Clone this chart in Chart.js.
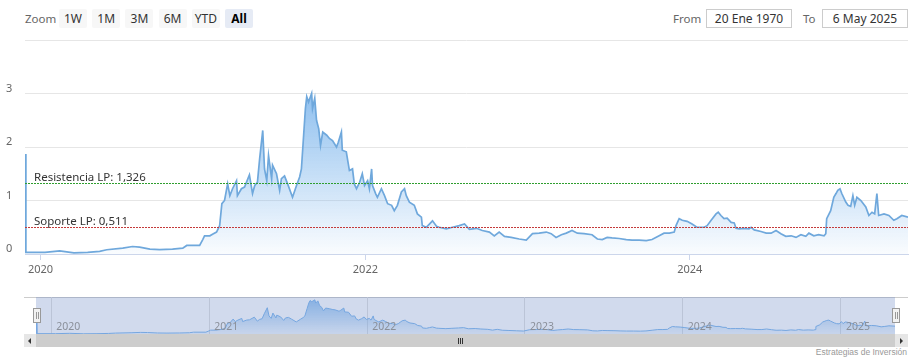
<!DOCTYPE html>
<html>
<head>
<meta charset="utf-8">
<script src="https://cdn.jsdelivr.net/npm/chart.js@4.4.1/dist/chart.umd.min.js"></script>
<style>
body{margin:0;background:#fff;font-family:"Noto Sans",sans-serif;}
#wrap{position:relative;width:921px;height:364px;overflow:hidden;background:#fff;}
.abs{position:absolute;}
.zbtn{position:absolute;top:9px;width:28px;height:19px;line-height:19px;text-align:center;font-size:12px;color:#333;background:#f7f7f7;border-radius:2px;}
.zbtn.sel{background:#e6ebf5;font-weight:bold;color:#000;}
.txt{position:absolute;top:9px;line-height:19px;font-size:11.5px;color:#666;}
.inp{position:absolute;top:9px;width:84px;height:17px;line-height:17px;border:1px solid #ccc;text-align:center;font-size:12px;color:#333;background:#fff;}
.handle{position:absolute;top:308px;width:6px;height:13px;background:#f2f2f2;border:1px solid #999;}
.handle i{position:absolute;top:3px;width:1px;height:7px;background:#999;}
</style>
</head>
<body>
<div id="wrap">
  <div class="txt" style="left:25px">Zoom</div>
  <div id="buttons"></div>
  <div class="txt" style="left:673px">From</div>
  <div class="inp" style="left:706px" id="fromBox"></div>
  <div class="txt" style="left:803px">To</div>
  <div class="inp" style="left:822px" id="toBox"></div>

  <canvas id="mainChart" class="abs" width="921" height="250" style="left:0;top:30px"></canvas>

  <div class="abs" style="left:24px;top:297px;width:884px;height:1px;background:#ccc"></div>
  <canvas id="navChart" class="abs" width="859" height="37" style="left:36px;top:297px"></canvas>
  <div class="handle" style="left:33px"><i style="left:2px"></i><i style="left:4px"></i></div>
  <div class="handle" style="left:892px"><i style="left:2px"></i><i style="left:4px"></i></div>

  <div class="abs" style="left:24px;top:334px;width:884px;height:13px;background:#f2f2f2">
    <div class="abs" style="left:12px;top:0;width:859px;height:13px;background:#cdcdcd"></div>
    <div class="abs" style="left:0;top:0;width:12px;height:13px;background:#e6e6e6">
      <div class="abs" style="left:4px;top:4px;width:0;height:0;border-top:3px solid transparent;border-bottom:3px solid transparent;border-right:3px solid #333"></div>
    </div>
    <div class="abs" style="left:871px;top:0;width:13px;height:13px;background:#e6e6e6">
      <div class="abs" style="left:5px;top:4px;width:0;height:0;border-top:3px solid transparent;border-bottom:3px solid transparent;border-left:3px solid #333"></div>
    </div>
    <div class="abs" style="left:434px;top:4px;width:1px;height:6px;background:#333"></div>
    <div class="abs" style="left:436px;top:4px;width:1px;height:6px;background:#333"></div>
    <div class="abs" style="left:438px;top:4px;width:1px;height:6px;background:#333"></div>
  </div>
  <div class="abs" id="credits" style="right:14px;top:347px;font-size:8.5px;color:#999;font-family:'Liberation Sans',sans-serif"></div>
</div>
<script>
// --- chart data ---
const dates = [
  '2019-11-27','2019-11-29','2020-01-11','2020-02-13','2020-03-16','2020-04-16','2020-05-13','2020-05-29','2020-07-04','2020-07-26',
  '2020-08-11','2020-09-03','2020-09-25','2020-10-24','2020-11-16','2020-11-25','2020-12-24','2020-12-31',
  '2021-01-04','2021-01-16','2021-01-22','2021-01-31','2021-02-07','2021-02-12','2021-02-18','2021-02-25','2021-03-02','2021-03-08',
  '2021-03-17','2021-03-19','2021-03-28','2021-04-04','2021-04-15','2021-04-22','2021-04-27','2021-05-03','2021-05-08','2021-05-15',
  '2021-05-19','2021-05-24','2021-05-28','2021-06-04','2021-06-06','2021-06-15','2021-06-22','2021-06-26','2021-07-03','2021-07-10',
  '2021-07-21','2021-07-30','2021-08-06','2021-08-10','2021-08-15','2021-08-19','2021-08-22','2021-08-26','2021-09-02','2021-09-04',
  '2021-09-09','2021-09-13','2021-09-18','2021-09-22','2021-09-27','2021-10-06','2021-10-12','2021-10-19','2021-10-28','2021-11-01',
  '2021-11-08','2021-11-10','2021-11-19','2021-11-26','2021-12-03','2021-12-07','2021-12-12','2021-12-19','2021-12-25','2021-12-30',
  '2022-01-06','2022-01-10','2022-01-15','2022-01-17','2022-01-24','2022-01-28','2022-02-06','2022-02-13','2022-02-20','2022-03-01',
  '2022-03-07','2022-03-14','2022-03-23','2022-03-30','2022-04-03','2022-04-10','2022-04-21','2022-04-28','2022-05-07','2022-05-09',
  '2022-05-18','2022-05-25','2022-06-01','2022-06-10','2022-06-16','2022-07-02','2022-07-16','2022-07-31','2022-08-12','2022-08-23',
  '2022-09-08','2022-09-21','2022-10-07','2022-10-18','2022-10-29','2022-11-10','2022-11-25','2022-12-13','2022-12-29',
  '2023-01-12','2023-01-27','2023-02-12','2023-02-23','2023-03-06','2023-03-18','2023-03-29','2023-04-11','2023-04-23','2023-05-08',
  '2023-05-26','2023-06-07','2023-06-18','2023-06-29','2023-07-10','2023-07-26','2023-08-11','2023-08-24','2023-09-09','2023-09-25',
  '2023-10-08','2023-10-24','2023-11-04','2023-11-16','2023-11-27','2023-12-01','2023-12-08','2023-12-15','2023-12-26',
  '2024-01-06','2024-01-17','2024-02-02','2024-02-09','2024-02-18','2024-02-29','2024-03-05','2024-03-11','2024-03-18','2024-03-25',
  '2024-04-03','2024-04-10','2024-04-14','2024-04-21','2024-05-02','2024-05-13','2024-05-18','2024-05-25','2024-06-09','2024-06-21',
  '2024-07-02','2024-07-13','2024-07-24','2024-08-04','2024-08-16','2024-08-27','2024-09-07','2024-09-18','2024-09-25','2024-10-06',
  '2024-10-17','2024-10-29','2024-11-02','2024-11-04','2024-11-13','2024-11-20','2024-11-25','2024-11-29','2024-12-04','2024-12-08',
  '2024-12-17','2024-12-22','2024-12-28',
  '2025-01-02','2025-01-06','2025-01-11','2025-01-20','2025-01-31','2025-02-07','2025-02-14','2025-02-20','2025-02-25','2025-03-01',
  '2025-03-13','2025-03-24','2025-04-04','2025-04-11','2025-04-22','2025-05-06'
];
const prices = [
  1.87,0.03,0.03,0.06,0.02,0.03,0.05,0.08,0.11,0.14,
  0.13,0.09,0.08,0.09,0.11,0.16,0.16,0.27,
  0.34,0.34,0.37,0.41,0.53,0.94,1.00,1.31,1.09,1.22,
  1.37,1.09,1.22,1.25,1.48,1.13,1.28,1.34,1.78,2.31,
  1.59,1.37,1.84,1.41,1.66,1.50,1.19,1.41,1.46,1.31,
  1.06,1.28,1.44,1.59,2.22,2.72,2.94,2.84,3.00,2.72,
  2.91,2.50,2.34,2.03,2.28,2.22,2.16,2.12,2.00,2.09,
  2.28,1.94,1.91,1.56,1.59,1.31,1.22,1.34,1.50,1.28,
  1.37,1.22,1.59,1.28,1.13,1.06,1.22,1.09,0.94,0.91,
  0.81,0.91,1.16,1.22,1.09,0.97,0.91,0.75,0.69,0.53,
  0.50,0.56,0.62,0.52,0.50,0.47,0.50,0.53,0.56,0.46,
  0.48,0.44,0.41,0.34,0.41,0.33,0.31,0.28,0.26,
  0.38,0.39,0.41,0.38,0.31,0.36,0.39,0.44,0.39,0.38,
  0.36,0.28,0.27,0.31,0.30,0.29,0.27,0.26,0.26,0.25,
  0.27,0.34,0.39,0.39,0.41,0.53,0.66,0.63,0.61,
  0.56,0.50,0.50,0.53,0.63,0.75,0.78,0.72,0.66,0.67,
  0.59,0.58,0.48,0.47,0.48,0.47,0.50,0.45,0.42,0.39,
  0.39,0.44,0.38,0.33,0.34,0.31,0.36,0.33,0.39,0.34,
  0.36,0.34,0.38,0.66,0.81,1.06,1.13,1.19,1.22,1.13,
  0.97,0.91,0.89,
  1.09,0.91,1.06,1.00,0.88,0.72,0.78,0.75,1.13,0.72,
  0.75,0.72,0.63,0.66,0.72,0.69
];
const levelValues = [1.326, 0.511];
const levelLabels = ['Resistencia LP: 1,326', 'Soporte LP: 0,511'];
const yTicks = [0, 1, 2, 3, 4];
const mainYears = [2020, 2022, 2024];
const navYears = [2020, 2021, 2022, 2023, 2024, 2025];
const zoomButtons = ['1W', '1M', '3M', '6M', 'YTD', 'All'];
const rangeFrom = '20 Ene 1970', rangeTo = '6 May 2025';
const creditText = 'Estrategias de Inversión';

if (dates.length !== prices.length) throw new Error('length mismatch ' + dates.length + ' / ' + prices.length);

// --- header & footer text ---
const btnBox = document.getElementById('buttons');
zoomButtons.forEach((b, i) => {
  const d = document.createElement('div');
  d.className = 'zbtn' + (b === 'All' ? ' sel' : '');
  d.style.left = (59 + i * 33.2) + 'px';
  d.textContent = b;
  btnBox.appendChild(d);
});
document.getElementById('fromBox').textContent = rangeFrom;
document.getElementById('toBox').textContent = rangeTo;
document.getElementById('credits').textContent = creditText;

// --- shared bits ---
const toTs = d => Date.parse(d + 'T00:00:00Z');
const points = dates.map((d, i) => ({ x: toTs(d), y: prices[i] }));
const xMin = points[0].x, xMax = points[points.length - 1].x;
const yearTs = y => Date.UTC(y, 0, 1);
Chart.defaults.font.family = '"Noto Sans", sans-serif';
Chart.defaults.animation = false;

function gradientFill(a0, a1, topVal) {
  return ctx => {
    const chart = ctx.chart, area = chart.chartArea, y = chart.scales.y;
    if (!area || !y) return 'rgba(124,181,236,0.3)';
    const g = chart.ctx.createLinearGradient(0, y.getPixelForValue(topVal), 0, area.bottom);
    g.addColorStop(0, 'rgba(124,181,236,' + a0 + ')');
    g.addColorStop(1, 'rgba(124,181,236,' + a1 + ')');
    return g;
  };
}

// --- level lines (plot lines) ---
const levelStyle = { colors: ['#2f9e2f', '#c43a3a'], dash: [2, 1] };
const levelLines = {
  id: 'levelLines',
  afterDatasetsDraw(chart) {
    const { ctx, chartArea: a, scales: { y } } = chart;
    levelValues.forEach((v, i) => {
      const py = Math.round(y.getPixelForValue(v)) + 0.5;
      ctx.save();
      ctx.strokeStyle = levelStyle.colors[i];
      ctx.lineWidth = 1;
      ctx.setLineDash(levelStyle.dash);
      ctx.beginPath(); ctx.moveTo(a.left, py); ctx.lineTo(a.right, py); ctx.stroke();
      ctx.setLineDash([]);
      ctx.fillStyle = '#333';
      ctx.font = '11.5px "Noto Sans", sans-serif';
      ctx.textBaseline = 'alphabetic';
      ctx.fillText(levelLabels[i], a.left + 9, py - 3);
      ctx.restore();
    });
  }
};

// --- main chart ---
new Chart(document.getElementById('mainChart'), {
  type: 'line',
  data: { datasets: [{
    data: points,
    borderColor: '#6fa8dc',
    borderWidth: 1.7,
    pointRadius: 0,
    tension: 0,
    fill: 'origin',
    backgroundColor: gradientFill(0.85, 0.04, 3)
  }]},
  options: {
    responsive: false,
    layout: { padding: { left: 6, right: 13, top: 10, bottom: 0 } },
    plugins: { legend: { display: false }, tooltip: { enabled: false } },
    scales: {
      x: {
        type: 'linear', min: xMin, max: xMax,
        afterBuildTicks: s => { s.ticks = mainYears.map(y => ({ value: yearTs(y) })); },
        afterFit: s => { s.height = 26; },
        ticks: { autoSkip: false, maxRotation: 0, padding: 3, color: '#666', font: { size: 11 },
                 callback: v => new Date(v).getUTCFullYear() },
        grid: { drawOnChartArea: false, drawTicks: true, tickLength: 6, color: '#ccd6eb' },
        border: { color: '#ccd6eb' }
      },
      y: {
        min: 0, max: 4,
        afterBuildTicks: s => { s.ticks = yTicks.map(v => ({ value: v })); },
        afterFit: s => { s.width = 19; },
        ticks: { crossAlign: 'far', labelOffset: -5, color: '#666', font: { size: 11 },
                 callback: v => (v === 4 ? '' : v) },
        grid: { color: '#e6e6e6', drawTicks: false },
        border: { display: false }
      }
    }
  },
  plugins: [levelLines]
});

// --- navigator ---
const navMask = {
  id: 'navMask',
  afterDatasetsDraw(chart) {
    const { ctx, chartArea: a, scales: { x } } = chart;
    ctx.save();
    ctx.fillStyle = 'rgba(102,133,194,0.3)';
    ctx.fillRect(a.left, a.top, a.right - a.left, a.bottom - a.top);
    ctx.fillStyle = '#8a8f99';
    ctx.font = '10.5px "Noto Sans", sans-serif';
    ctx.textBaseline = 'alphabetic';
    navYears.forEach(y => ctx.fillText(String(y), x.getPixelForValue(yearTs(y)) + 5, a.bottom - 4));
    ctx.restore();
  }
};
new Chart(document.getElementById('navChart'), {
  type: 'line',
  data: { datasets: [{
    data: points,
    borderColor: '#7cb5ec',
    borderWidth: 1,
    pointRadius: 0,
    tension: 0,
    fill: 'origin',
    backgroundColor: gradientFill(0.8, 0.1, 3)
  }]},
  options: {
    responsive: false,
    layout: { padding: 0 },
    plugins: { legend: { display: false }, tooltip: { enabled: false } },
    scales: {
      x: {
        type: 'linear', min: xMin, max: xMax,
        afterBuildTicks: s => { s.ticks = navYears.map(y => ({ value: yearTs(y) })); },
        afterFit: s => { s.height = 0; },
        ticks: { display: false },
        grid: { color: '#e0e0e0', drawTicks: false },
        border: { display: false }
      },
      y: { display: false, min: 0, max: 3.25 }
    }
  },
  plugins: [navMask]
});
</script>
</body>
</html>
